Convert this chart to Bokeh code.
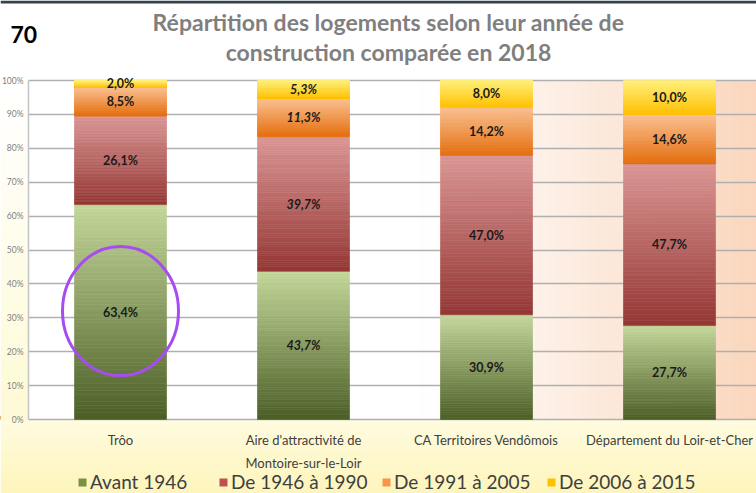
import numpy as np
from bokeh.plotting import figure
from bokeh.models import (Range1d, FixedTicker, BoxAnnotation, Legend,
                          LegendItem, ColumnDataSource, Grid)
from bokeh.embed import file_html
from bokeh.resources import INLINE
from bokeh.core.properties import value

# ---------------- data ----------------
categories = ["Trôo", "Aire d'attractivité de\nMontoire-sur-le-Loir",
              "CA Territoires Vendômois", "Département du Loir-et-Cher"]
series_names = ["Avant 1946", "De 1946 à 1990", "De 1991 à 2005", "De 2006 à 2015"]
avant_1946 = [63.4, 43.7, 30.9, 27.7]
de_1946_1990 = [26.1, 39.7, 47.0, 47.7]
de_1991_2005 = [8.5, 11.3, 14.2, 14.6]
de_2006_2015 = [2.0, 5.3, 8.0, 10.0]
y_ticks = [0, 10, 20, 30, 40, 50, 60, 70, 80, 90, 100]
y_tick_labels = ["0%", "10%", "20%", "30%", "40%", "50%", "60%", "70%", "80%", "90%", "100%"]
title_lines = ["Répartition des logements selon leur année de",
               "construction comparée en 2018"]
page_number = "70"
italic_category = 1  # labels of this bar are italic in the source

# ---------------- layout / styles ----------------
W, H = 756, 493
UNIT = 183.0            # px between bar centres
FIRST_CENTER = 120.0    # px of first bar centre
AXIS_PX = 28.0          # px of value axis line
TOP_PX, ZERO_PX = 80.0, 419.0
PX = (ZERO_PX - TOP_PX) / 100.0
X0 = -FIRST_CENTER / UNIT
X1 = X0 + W / UNIT
Y0 = -(H - ZERO_PX) / PX
Y1 = 100 + TOP_PX / PX
FONT = "Lato"
legend_px = [77, 218, 381, 546]


def px2x(px):
    return X0 + px / UNIT


def py2y(py):
    return (ZERO_PX - py) / PX


grad = [("#4b5e25", "#c4d79b"),
        ("#943634", "#da9694"),
        ("#e46c0a", "#fac090"),
        ("#ffc000", "#fff07a")]
legend_cols = ["#77933c", "#c0504d", "#f79646", "#ffc000"]


def hex2rgb(h):
    h = h.lstrip("#")
    return np.array([int(h[i:i + 2], 16) for i in (0, 2, 4)], dtype=float)


def mix(c0, c1, f):
    c = hex2rgb(c0) * (1 - f) + hex2rgb(c1) * f
    return "#%02x%02x%02x" % tuple(int(round(v)) for v in c)


p = figure(width=W, height=H, output_backend="svg", toolbar_location=None,
           x_range=Range1d(X0, X1), y_range=Range1d(Y0, Y1),
           x_axis_location=None, y_axis_location=None,
           min_border=0, title=None)
p.outline_line_color = None
p.background_fill_color = "#ffffff"
p.border_fill_color = "#ffffff"
p.renderers = [r for r in p.renderers if not isinstance(r, Grid)]
p.center = [c for c in p.center if not isinstance(c, Grid)]

# ---- backgrounds (decoration) ----
n_bands = 40
gx0 = px2x(420)
for k in range(n_bands):
    a = gx0 + (X1 - gx0) * k / n_bands
    b = gx0 + (X1 - gx0) * (k + 1) / n_bands + 0.003
    p.add_layout(BoxAnnotation(left=a, right=b, bottom=0, top=100,
                               fill_color=mix("#ffffff", "#fad6bd", (k + 0.5) / n_bands),
                               fill_alpha=1, line_color=None, level="image"))
for k in range(14):
    t = Y0 * k / 14
    b = Y0 * (k + 1) / 14 - 0.2
    p.add_layout(BoxAnnotation(left=X0, right=X1, top=t, bottom=b,
                               fill_color=mix("#fffbe0", "#fdf5bb", (k + 0.5) / 14),
                               fill_alpha=1, line_color=None, level="image"))
for k in range(20):
    t = 100 - 100 * k / 20
    b = 100 - 100 * (k + 1) / 20 - 0.3
    p.add_layout(BoxAnnotation(left=X0, right=px2x(AXIS_PX), top=t, bottom=b,
                               fill_color=mix("#ffffff", "#fefad6", (k + 0.5) / 20),
                               fill_alpha=1, line_color=None, level="image"))
# dark strip along the top edge of the page
p.add_layout(BoxAnnotation(left=X0, right=X1, top=Y1, bottom=py2y(3),
                           fill_color="#34444e", fill_alpha=1, line_color=None,
                           level="image"))

# ---- grid ----
grid = Grid(dimension=1, ticker=FixedTicker(ticks=y_ticks),
            grid_line_color="#b0b0b0", grid_line_width=1.6)
if "cross_bounds" in Grid.properties():
    grid.cross_bounds = (px2x(AXIS_PX), X1)
p.add_layout(grid)
# value axis line
p.segment(x0=[px2x(AXIS_PX)], y0=[y_ticks[0]], x1=[px2x(AXIS_PX)], y1=[y_ticks[-1]],
          line_color="#c4c4c4", line_width=1.5)

# ---- gradient stacked bars ----
series = [avant_1946, de_1946_1990, de_1991_2005, de_2006_2015]
n_slices = 60
base = [0.0] * len(categories)
lab_x, lab_y, lab_t, lab_style = [], [], [], []
for s, vals in enumerate(series):
    xs, bots, tops, cols = [], [], [], []
    for j, v in enumerate(vals):
        b0 = base[j]
        t0 = b0 + v
        for k in range(n_slices):
            xs.append(j)
            bots.append(b0 + v * k / n_slices)
            tops.append(b0 + v * (k + 1) / n_slices)
            cols.append(mix(grad[s][0], grad[s][1], (k + 0.5) / n_slices))
        lab_x.append(j)
        lab_y.append((b0 + t0) / 2)
        lab_t.append(f"{v:.1f}".replace(".", ",") + "%")
        lab_style.append("bold italic" if j == italic_category else "bold")
        base[j] = t0
    src = ColumnDataSource(dict(x=xs, bottom=bots, top=tops, color=cols))
    p.vbar(x="x", bottom="bottom", top="top", width=92 / UNIT, source=src,
           fill_color="color", line_color="color", line_width=0.6)

lsrc = ColumnDataSource(dict(x=lab_x, y=lab_y, t=lab_t, st=lab_style))
p.text(x="x", y="y", text="t", source=lsrc, text_align="center", text_baseline="middle",
       text_font=value(FONT), text_font_size="12.5px", text_font_style="st",
       text_color="#1a1a1a")

# highlight ellipse round the Trôo bar
p.ellipse(x=0, y=avant_1946[0] / 2 + 0.3, width=116 / UNIT, height=129 / PX,
          fill_alpha=0, line_color="#a64cf0", line_width=3)

# ---- value tick labels ----
p.text(x=[px2x(23)] * len(y_ticks), y=y_ticks, text=y_tick_labels,
       text_align="right", text_baseline="middle", text_font=value(FONT),
       text_font_size="8.5px", text_color="#808080")

# ---- category labels ----
cx, cy, ct = [], [], []
for j, c in enumerate(categories):
    for i, line in enumerate(c.split("\n")):
        cx.append(j)
        cy.append(py2y(439 + 23 * i))
        ct.append(line)
p.text(x=cx, y=cy, text=ct, text_align="center", text_baseline="middle",
       text_font=value(FONT), text_font_size="13px", text_color="#404040")

# ---- title & page number ----
p.text(x=[px2x(388)] * 2, y=[py2y(21), py2y(51)], text=title_lines,
       text_align="center", text_baseline="middle", text_font=value(FONT),
       text_font_size="23px", text_font_style="bold", text_color="#7f7f7f")
p.text(x=[px2x(10)], y=[py2y(34)], text=[page_number],
       text_align="left", text_baseline="middle", text_font=value(FONT),
       text_font_size="23px", text_font_style="bold", text_color="#000000")

# ---- legend (one legend per entry so each swatch sits where the source has it) ----
for name, col, lx in zip(series_names, legend_cols, legend_px):
    r = p.vbar(x=[X0 - 5], top=[1], width=0.5, fill_color=col, line_color=None)
    leg = Legend(items=[LegendItem(label=name, renderers=[r])], location=(lx, 0),
                 label_text_font=FONT, label_text_font_size="19px",
                 label_text_color="#404040", glyph_width=10, glyph_height=10,
                 label_standoff=3, padding=0, margin=0, border_line_alpha=0,
                 background_fill_alpha=0)
    p.add_layout(leg)

open("out.html", "w").write(file_html(p, INLINE))
